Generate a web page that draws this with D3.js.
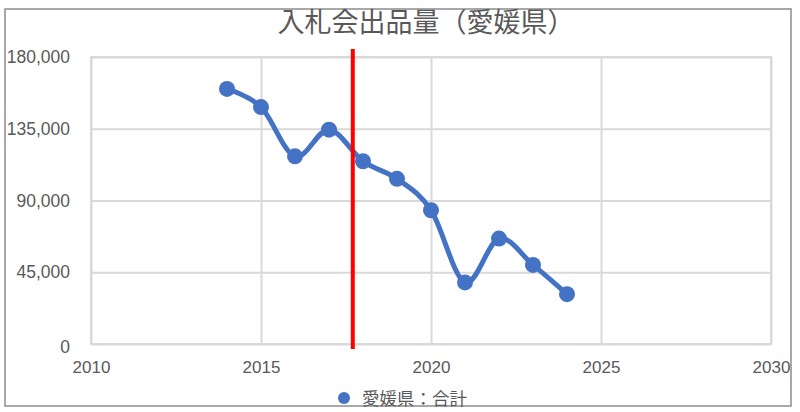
<!DOCTYPE html>
<html><head><meta charset="utf-8">
<script src="https://cdn.jsdelivr.net/npm/d3@7"></script>
<style>body{margin:0;background:#fff}svg{display:block}</style>
</head><body>
<svg id="c" width="800" height="412"></svg>
<script>
const title = "入札会出品量（愛媛県）";
const seriesName = "愛媛県：合計";
const years = [2014, 2015, 2016, 2017, 2018, 2019, 2020, 2021, 2022, 2023, 2024];
const values = [160000, 148600, 117700, 134400, 114600, 103600, 83900, 38600, 66100, 49600, 31250];
const xTicks = [2010, 2015, 2020, 2025, 2030];
const yTicks = [0, 45000, 90000, 135000, 180000];
const markerYear = [2017.7];

const svg = d3.select("#c");
const font = "'Liberation Sans', Arial, sans-serif";
const cjk = "'Noto Sans CJK JP', sans-serif";
const grey = "#595959";

svg.append("rect").attr("x", 5).attr("y", 9).attr("width", 786).attr("height", 397)
  .attr("fill", "#fff").attr("stroke", "#8c8c8c").attr("stroke-width", 1.5);

const x = d3.scaleLinear().domain([2010, 2030]).range([91, 771]);
const y = d3.scaleLinear().domain([0, 180000]).range([344, 57]);

const gx = svg.append("g").attr("transform", "translate(0,344)")
  .call(d3.axisBottom(x).tickValues(xTicks).tickSize(-(344 - 57)).tickFormat(d3.format("d")));
gx.select(".domain").remove();
gx.selectAll("line").attr("stroke", "#d9d9d9").attr("stroke-width", 2);
gx.selectAll("text").attr("fill", grey).attr("font-family", font).attr("font-size", 17)
  .attr("dy", 0).attr("y", 29);

const gy = svg.append("g").attr("transform", "translate(91,0)")
  .call(d3.axisLeft(y).tickValues(yTicks).tickSize(-(771 - 91)).tickFormat(d3.format(",")));
gy.select(".domain").remove();
gy.selectAll("line").attr("stroke", "#d9d9d9").attr("stroke-width", 2);
gy.selectAll("text").attr("fill", grey).attr("font-family", font).attr("font-size", 17.5)
  .attr("x", -21).attr("dy", "0.32em");
gy.selectAll(".tick").filter(d => d === 0).select("text").attr("dy", "0.5em");

svg.append("rect").attr("x", 91).attr("y", 57).attr("width", 680).attr("height", 287)
  .attr("fill", "none").attr("stroke", "#d9d9d9").attr("stroke-width", 2);

const data = years.map((yr, i) => ({yr, v: values[i]}));
const line = d3.line().x(d => x(d.yr)).y(d => y(d.v)).curve(d3.curveCatmullRom.alpha(0));
svg.append("path").datum(data).attr("d", line).attr("fill", "none")
  .attr("stroke", "#4472C4").attr("stroke-width", 5).attr("stroke-linejoin", "round");
svg.selectAll("circle.pt").data(data).join("circle").attr("class", "pt")
  .attr("cx", d => x(d.yr)).attr("cy", d => y(d.v)).attr("r", 8).attr("fill", "#4472C4");

svg.selectAll("line.red").data(markerYear).join("line").attr("class", "red")
  .attr("x1", d => x(d)).attr("x2", d => x(d)).attr("y1", 49).attr("y2", 349)
  .attr("stroke", "#ff0000").attr("stroke-width", 4);

svg.append("text").attr("x", 426).attr("y", 32).attr("text-anchor", "middle")
  .attr("font-family", cjk).attr("font-size", 27).attr("fill", grey).text(title);

svg.append("circle").attr("cx", 344).attr("cy", 398).attr("r", 6).attr("fill", "#4472C4");
svg.append("text").attr("x", 362).attr("y", 405).attr("font-family", cjk).attr("font-size", 17.5)
  .attr("fill", grey).text(seriesName);
</script>
</body></html>
